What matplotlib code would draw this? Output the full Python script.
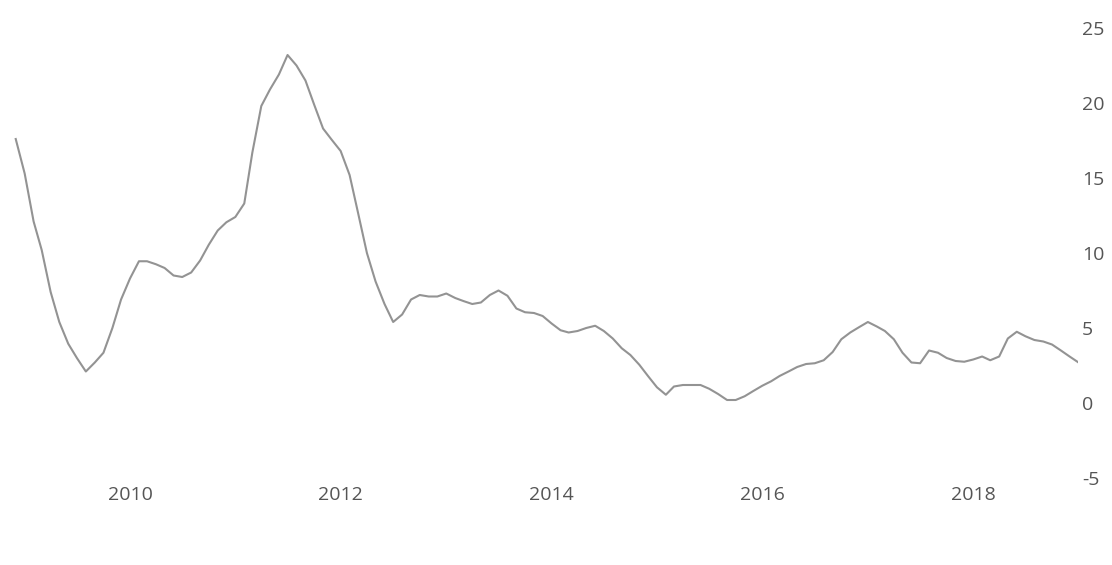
import matplotlib
matplotlib.use("Agg")
import matplotlib.pyplot as plt
import matplotlib.dates as mdates
import pandas as pd
import datetime as dt

# Monthly values, Dec 2008 .. Jan 2019
start_month = "2008-12-01"
values = [
    17.6, 15.3, 12.1, 10.2, 7.4, 5.4, 3.95, 3.0, 2.1, 2.7, 3.35, 5.0,
    6.9, 8.3, 9.45, 9.45, 9.25, 9.0, 8.5, 8.4, 8.7, 9.5, 10.55, 11.5,
    12.05, 12.4, 13.3, 16.7, 19.8, 20.9, 21.9, 23.2, 22.5, 21.5, 19.9, 18.3,
    17.55, 16.8, 15.2, 12.7, 10.0, 8.1, 6.6, 5.4, 5.9, 6.9, 7.2, 7.1,
    7.1, 7.3, 7.0, 6.8, 6.6, 6.7, 7.2, 7.5, 7.15, 6.3, 6.05, 6.0,
    5.8, 5.3, 4.85, 4.7, 4.8, 5.0, 5.15, 4.8, 4.3, 3.65, 3.2, 2.55,
    1.8, 1.05, 0.55, 1.1, 1.2, 1.2, 1.2, 0.95, 0.6, 0.2, 0.2, 0.45,
    0.8, 1.15, 1.45, 1.8, 2.1, 2.4, 2.6, 2.65, 2.85, 3.4, 4.25, 4.7,
    5.05, 5.4, 5.1, 4.8, 4.25, 3.35, 2.7, 2.65, 3.5, 3.35, 3.0, 2.8,
    2.75, 2.9, 3.1, 2.85, 3.1, 4.3, 4.75, 4.45, 4.2, 4.1, 3.9, 3.5,
    3.1, 2.7,
]
dates = pd.date_range(start_month, periods=len(values), freq="MS")

year_ticks = [2010, 2012, 2014, 2016, 2018]
y_ticks = [-5, 0, 5, 10, 15, 20, 25]

W, H = 1112, 565
fig = plt.figure(figsize=(W / 100, H / 100), dpi=100)
fig.patch.set_facecolor("white")

ax_left_px, ax_right_px = 0, 1078
ax_top_px, ax_bot_px = 28, 478
ax = fig.add_axes([ax_left_px / W, 1 - ax_bot_px / H,
                   (ax_right_px - ax_left_px) / W, (ax_bot_px - ax_top_px) / H])

ax.plot(dates, values, color="#939393", lw=1.5, solid_joinstyle="round")

# x mapping: Jan 1 2010 at pixel 130, 105.4 px per year
ref = mdates.date2num(dt.datetime(2010, 1, 1))
px_per_day = 105.4 / 365.25
ax.set_xlim(ref - (130 - ax_left_px) / px_per_day, ref + (ax_right_px - 130) / px_per_day)
ax.set_ylim(-5, 25)

ax.set_xticks([mdates.date2num(dt.datetime(y, 1, 1)) for y in year_ticks])
ax.set_xticklabels([str(y) for y in year_ticks])
ax.set_yticks(y_ticks)
ax.set_yticklabels([str(v) for v in y_ticks])

ax.yaxis.tick_right()
for s in ax.spines.values():
    s.set_visible(False)
ax.tick_params(axis="both", length=0, labelsize=14, colors="#555555")
ax.tick_params(axis="y", pad=3)
ax.tick_params(axis="x", pad=6)
for lab in ax.get_xticklabels() + ax.get_yticklabels():
    lab.set_fontfamily("Open Sans")
ax.grid(False)
ax.set_facecolor("white")

fig.savefig("out.png", dpi=100, facecolor="white")
